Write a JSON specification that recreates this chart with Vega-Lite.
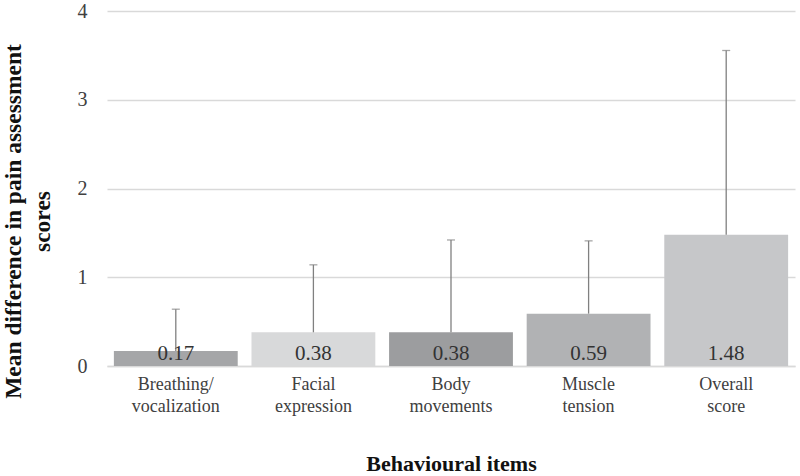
{
  "$schema": "https://vega.github.io/schema/vega-lite/v6.json",
  "width": 688,
  "height": 355,
  "autosize": {"type": "none"},
  "padding": {"left": 107, "top": 11, "right": 5, "bottom": 110},
  "background": "white",
  "config": {
    "view": {"stroke": null},
    "font": "Liberation Serif",
    "text": {"font": "Liberation Serif"},
    "axis": {"labelFont": "Liberation Serif", "titleFont": "Liberation Serif"}
  },
  "data": {
    "values": [
      {"item": "Breathing/|vocalization", "mean": 0.17, "upper": 0.64},
      {"item": "Facial|expression", "mean": 0.38, "upper": 1.14},
      {"item": "Body|movements", "mean": 0.38, "upper": 1.42},
      {"item": "Muscle|tension", "mean": 0.59, "upper": 1.41},
      {"item": "Overall|score", "mean": 1.48, "upper": 3.555}
    ]
  },
  "encoding": {
    "x": {
      "field": "item",
      "type": "nominal",
      "sort": null,
      "scale": {"paddingInner": 0.1, "paddingOuter": 0.05},
      "axis": {
        "title": "Behavioural items",
        "titleFontSize": 22,
        "titleFontWeight": "bold",
        "titleColor": "#111111",
        "titleBaseline": "middle",
        "titleY": 97,
        "labelExpr": "split(datum.value, '|')",
        "labelAngle": 0,
        "labelFontSize": 18,
        "labelLineHeight": 22,
        "labelColor": "#404040",
        "labelPadding": 9,
        "ticks": false,
        "domainColor": "#d9d9d9",
        "domainWidth": 1.5
      }
    }
  },
  "layer": [
    {
      "mark": {"type": "bar"},
      "encoding": {
        "y": {
          "field": "mean",
          "type": "quantitative",
          "scale": {"domain": [0, 4]},
          "axis": {
            "title": ["Mean difference in pain assessment", "scores"],
            "titleFontSize": 23.5,
            "titleFontWeight": "bold",
            "titleColor": "#111111",
            "titleLineHeight": 29,
            "titleAngle": -90,
            "titleBaseline": "bottom",
            "titleAlign": "center",
            "titleX": -82,
            "titleY": 210,
            "values": [0, 1, 2, 3, 4],
            "format": "d",
            "labelFontSize": 20,
            "labelColor": "#404040",
            "labelPadding": 20,
            "ticks": false,
            "domain": false,
            "gridColor": "#d9d9d9",
            "gridWidth": 1.5
          }
        },
        "color": {
          "field": "item",
          "type": "nominal",
          "sort": null,
          "scale": {
            "domain": ["Breathing/|vocalization", "Facial|expression", "Body|movements", "Muscle|tension", "Overall|score"],
            "range": ["#a5a6a8", "#d8d9da", "#9c9d9f", "#b1b2b4", "#c6c7c9"]
          },
          "legend": null
        }
      }
    },
    {
      "mark": {"type": "rule", "color": "#808080", "strokeWidth": 1.3},
      "encoding": {
        "y": {"field": "mean", "type": "quantitative"},
        "y2": {"field": "upper"}
      }
    },
    {
      "mark": {"type": "tick", "color": "#808080", "size": 8, "thickness": 1.3, "orient": "horizontal"},
      "encoding": {
        "y": {"field": "upper", "type": "quantitative"}
      }
    },
    {
      "mark": {"type": "text", "font": "Liberation Serif", "fontSize": 21, "color": "#333333", "baseline": "alphabetic", "dy": -6},
      "encoding": {
        "y": {"datum": 0, "type": "quantitative"},
        "text": {"field": "mean", "type": "quantitative", "format": ".2f"}
      }
    }
  ]
}
